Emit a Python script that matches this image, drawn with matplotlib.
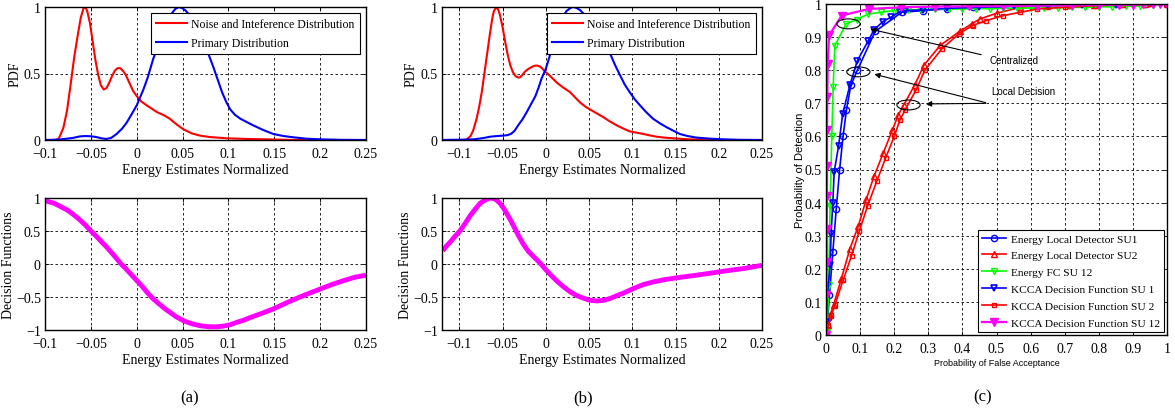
import numpy as np
import matplotlib.pyplot as plt
from matplotlib.patches import Ellipse

plt.rcParams['font.family'] = ['Liberation Serif', 'DejaVu Serif']

# ---- panel (a) data
a_noise_x = [-0.1, -0.089, -0.085, -0.08, -0.076, -0.072, -0.068, -0.064, -0.061, -0.058,
             -0.056, -0.054, -0.051, -0.048, -0.045, -0.042, -0.039, -0.036, -0.033, -0.030,
             -0.027, -0.024, -0.021, -0.018, -0.015, -0.012, -0.008, -0.004, 0.0, 0.005,
             0.011, 0.022, 0.03, 0.036, 0.043, 0.051, 0.06, 0.069, 0.08, 0.098,
             0.12, 0.142, 0.171, 0.25]
a_noise_y = [0.0, 0.0, 0.01, 0.09, 0.22, 0.42, 0.63, 0.8, 0.92, 0.99,
             1.0, 0.97, 0.88, 0.74, 0.6, 0.49, 0.41, 0.38, 0.39, 0.43,
             0.48, 0.52, 0.54, 0.54, 0.52, 0.49, 0.43, 0.37, 0.33, 0.29,
             0.26, 0.21, 0.185, 0.16, 0.12, 0.08, 0.05, 0.033, 0.022, 0.013,
             0.008, 0.005, 0.0, 0.0]
a_prim_x = [-0.1, -0.085, -0.07, -0.062, -0.056, -0.05, -0.044, -0.038, -0.033, -0.028,
            -0.022, -0.016, -0.011, -0.005, 0.0, 0.0073, 0.012, 0.018, 0.024, 0.029,
            0.034, 0.038, 0.042, 0.046, 0.05, 0.053, 0.057, 0.062, 0.067, 0.073,
            0.078, 0.084, 0.089, 0.093, 0.098, 0.102, 0.107, 0.113, 0.12, 0.127,
            0.138, 0.149, 0.16, 0.171, 0.185, 0.2, 0.225, 0.25]
a_prim_y = [0.0, 0.003, 0.015, 0.027, 0.03, 0.028, 0.022, 0.012, 0.008, 0.015,
            0.045, 0.085, 0.13, 0.2, 0.26, 0.38, 0.47, 0.61, 0.72, 0.81,
            0.89, 0.95, 0.985, 1.0, 0.99, 0.975, 0.945, 0.89, 0.82, 0.74,
            0.65, 0.54, 0.44, 0.36, 0.28, 0.23, 0.19, 0.16, 0.135, 0.11,
            0.075, 0.045, 0.03, 0.02, 0.01, 0.005, 0.001, 0.0]
a_dec_x = [-0.1, -0.09, -0.083, -0.076, -0.07, -0.063, -0.056, -0.05, -0.044, -0.038,
           -0.033, -0.028, -0.023, -0.018, -0.012, -0.006, 0.0, 0.006, 0.012, 0.018,
           0.024, 0.03, 0.036, 0.043, 0.051, 0.06, 0.069, 0.078, 0.087, 0.095,
           0.102, 0.11, 0.117, 0.124, 0.136, 0.149, 0.16, 0.171, 0.185, 0.2,
           0.213, 0.226, 0.238, 0.25]
a_dec_y = [0.96, 0.92, 0.87, 0.82, 0.76, 0.68, 0.59, 0.5, 0.42, 0.33,
           0.26, 0.18, 0.1, 0.015, -0.07, -0.16, -0.25, -0.34, -0.44, -0.53,
           -0.6, -0.67, -0.73, -0.8, -0.86, -0.905, -0.935, -0.95, -0.952, -0.94,
           -0.92, -0.88, -0.85, -0.81, -0.75, -0.68, -0.61, -0.54, -0.46, -0.38,
           -0.31, -0.25, -0.2, -0.17]

# ---- panel (b) data
b_noise_x = [-0.12, -0.093, -0.09, -0.087, -0.084, -0.08, -0.077, -0.074, -0.071, -0.068,
             -0.065, -0.062, -0.06, -0.057, -0.055, -0.053, -0.05, -0.047, -0.044, -0.041,
             -0.038, -0.035, -0.032, -0.030, -0.027, -0.024, -0.02, -0.016, -0.013, -0.010,
             -0.006, -0.003, 0.0, 0.006, 0.013, 0.02, 0.028, 0.034, 0.04, 0.046,
             0.051, 0.059, 0.067, 0.074, 0.082, 0.09, 0.097, 0.105, 0.113, 0.12,
             0.128, 0.137, 0.147, 0.157, 0.167, 0.185, 0.25]
b_noise_y = [0.0, 0.0, 0.012, 0.03, 0.07, 0.16, 0.25, 0.36, 0.5, 0.64,
             0.78, 0.91, 0.97, 1.0, 0.98, 0.94, 0.85, 0.74, 0.64, 0.56,
             0.51, 0.48, 0.47, 0.47, 0.49, 0.515, 0.535, 0.55, 0.558, 0.56,
             0.55, 0.53, 0.51, 0.475, 0.43, 0.395, 0.36, 0.32, 0.28, 0.25,
             0.23, 0.2, 0.17, 0.14, 0.11, 0.085, 0.065, 0.055, 0.045, 0.035,
             0.025, 0.018, 0.013, 0.008, 0.005, 0.001, 0.0]
b_prim_x = [-0.12, -0.1, -0.083, -0.072, -0.064, -0.056, -0.049, -0.044, -0.04, -0.036,
            -0.032, -0.027, -0.022, -0.017, -0.012, -0.008, -0.005, 0.0, 0.004, 0.009,
            0.013, 0.017, 0.021, 0.024, 0.028, 0.031, 0.035, 0.04, 0.045, 0.051,
            0.057, 0.063, 0.069, 0.075, 0.08, 0.086, 0.091, 0.097, 0.103, 0.109,
            0.116, 0.124, 0.132, 0.14, 0.148, 0.155, 0.164, 0.174, 0.19, 0.205,
            0.225, 0.25]
b_prim_y = [0.0, 0.002, 0.005, 0.015, 0.025, 0.03, 0.033, 0.037, 0.047, 0.07,
            0.11, 0.155, 0.21, 0.27, 0.33, 0.4, 0.46, 0.535, 0.62, 0.74,
            0.82, 0.89, 0.94, 0.97, 0.99, 1.0, 0.995, 0.975, 0.94, 0.89,
            0.84, 0.79, 0.72, 0.64, 0.565, 0.485, 0.42, 0.36, 0.305, 0.26,
            0.21, 0.16, 0.125, 0.095, 0.068, 0.045, 0.03, 0.018, 0.01, 0.005,
            0.001, 0.0]
b_dec_x = [-0.119, -0.115, -0.11, -0.105, -0.1, -0.094, -0.087, -0.081, -0.076, -0.07,
           -0.064, -0.06, -0.057, -0.053, -0.049, -0.045, -0.041, -0.037, -0.032, -0.026,
           -0.02, -0.014, -0.007, 0.0, 0.006, 0.013, 0.02, 0.028, 0.036, 0.044,
           0.051, 0.059, 0.067, 0.075, 0.082, 0.09, 0.1, 0.113, 0.125, 0.136,
           0.151, 0.174, 0.19, 0.205, 0.228, 0.25]
b_dec_y = [0.2, 0.27, 0.34, 0.42, 0.49, 0.6, 0.74, 0.84, 0.92, 0.97,
           1.0, 0.99, 0.97, 0.92, 0.85, 0.76, 0.67, 0.57, 0.44, 0.3,
           0.19, 0.11, 0.02, -0.086, -0.17, -0.26, -0.34, -0.42, -0.48, -0.52,
           -0.55, -0.56, -0.55, -0.52, -0.48, -0.44, -0.38, -0.31, -0.27, -0.24,
           -0.21, -0.17, -0.14, -0.11, -0.07, -0.02]

# ---- panel (c) ROC data
en1_x = [0, 0.005, 0.01, 0.02, 0.03, 0.04, 0.05, 0.06, 0.073, 0.092, 0.144, 0.222,
         0.285, 0.354, 0.43, 0.5, 0.57, 0.647, 0.715, 0.785, 0.862, 0.935, 1.0]
en1_y = [0, 0.05, 0.12, 0.25, 0.38, 0.5, 0.6, 0.68, 0.755, 0.80, 0.917, 0.975,
         0.98, 0.985, 0.99, 0.997, 0.997, 0.998, 0.998, 0.999, 0.999, 1.0, 1.0]
en2_x = [0, 0.005, 0.012, 0.022, 0.045, 0.07, 0.095, 0.118, 0.141, 0.168, 0.195, 0.212,
         0.228, 0.26, 0.287, 0.335, 0.393, 0.427, 0.452, 0.5, 0.57, 0.647, 0.715,
         0.785, 0.862, 0.935, 1.0]
en2_y = [0, 0.03, 0.06, 0.09, 0.17, 0.26, 0.33, 0.41, 0.48, 0.55, 0.62, 0.665,
         0.695, 0.755, 0.815, 0.875, 0.918, 0.94, 0.955, 0.972, 0.99, 0.995, 0.997,
         0.998, 0.999, 1.0, 1.0]
fc_x = [0, 0.003, 0.008, 0.012, 0.017, 0.021, 0.026, 0.059, 0.09, 0.124, 0.16, 0.2,
        0.24, 0.28, 0.32, 0.36, 0.4, 0.44, 0.48, 0.52, 0.56, 0.6, 0.64, 0.68, 0.72,
        0.76, 0.8, 0.84, 0.88, 0.92, 0.96, 1.0]
fc_y = [0, 0.01, 0.15, 0.39, 0.6, 0.75, 0.874, 0.94, 0.953, 0.97, 0.975, 0.98,
        0.982, 0.983, 0.984, 0.985, 0.985, 0.986, 0.986, 0.987, 0.987, 0.988, 0.988,
        0.989, 0.99, 0.99, 0.991, 0.992, 0.993, 0.994, 0.996, 1.0]
k1_x = [0, 0.0, 0.004, 0.012, 0.015, 0.02, 0.024, 0.037, 0.049, 0.07, 0.092, 0.124,
        0.141, 0.167, 0.19, 0.217, 0.232, 0.285, 0.354, 0.45, 0.55, 0.65, 0.75, 0.85,
        0.95, 1.0]
k1_y = [0, 0.04, 0.12, 0.21, 0.305, 0.40, 0.493, 0.572, 0.668, 0.755, 0.829, 0.889,
        0.922, 0.947, 0.96, 0.977, 0.98, 0.982, 0.987, 0.99, 0.993, 0.995, 0.997, 0.998,
        0.999, 1.0]
k2_x = [0, 0.002, 0.007, 0.016, 0.026, 0.05, 0.075, 0.098, 0.122, 0.149, 0.175, 0.2,
        0.217, 0.232, 0.264, 0.29, 0.34, 0.39, 0.43, 0.47, 0.52, 0.57, 0.62, 0.7,
        0.79, 0.87, 0.95, 1.0]
k2_y = [0, 0.005, 0.03, 0.06, 0.09, 0.165, 0.24, 0.315, 0.39, 0.465, 0.535, 0.6,
        0.65, 0.68, 0.74, 0.80, 0.865, 0.91, 0.935, 0.95, 0.965, 0.975, 0.985, 0.99,
        0.995, 0.997, 0.999, 1.0]
k12_x = [0, 0.001, 0.002, 0.002, 0.003, 0.003, 0.003, 0.004, 0.005, 0.009, 0.046, 0.125,
         0.22, 0.32, 0.42, 0.52, 0.62, 0.72, 0.8, 0.86, 0.9, 0.93, 0.96, 0.98, 1.0]
k12_y = [0, 0.12, 0.22, 0.32, 0.42, 0.51, 0.62, 0.72, 0.82, 0.905, 0.965, 0.985,
         0.99, 0.992, 0.993, 0.994, 0.995, 0.996, 0.997, 0.998, 0.998, 0.999, 0.999, 1.0, 1.0]

pdf_ticks = [-0.1, -0.05, 0, 0.05, 0.1, 0.15, 0.2, 0.25]
roc_ticks = [0, 0.1, 0.2, 0.3, 0.4, 0.5, 0.6, 0.7, 0.8, 0.9, 1]


def fmt(v):
    return ('%g' % v).replace('-', '\u2212')


W, H = 1175, 414
fig = plt.figure(figsize=(W / 100, H / 100), dpi=100)


def box(l, r, t, b):
    return [l / W, 1 - b / H, (r - l) / W, (b - t) / H]


def style(ax, xl, yl, xt, yt):
    ax.set_xlim(*xl)
    ax.set_ylim(*yl)
    ax.set_xticks(xt)
    ax.set_yticks(yt)
    ax.set_xticklabels([fmt(v) for v in xt], fontsize=10)
    ax.set_yticklabels([fmt(v) for v in yt], fontsize=10)
    ax.tick_params(direction='in', length=3, width=0.6, top=True, right=True)
    ax.tick_params(axis='x', pad=5)
    ax.tick_params(axis='y', pad=3)
    ax.grid(True, color='black', linestyle=(0, (3, 3)), linewidth=0.6)
    for s in ax.spines.values():
        s.set_linewidth(1.0)


def frame(leg):
    leg.get_frame().set_edgecolor('black')
    leg.get_frame().set_linewidth(0.8)
    leg.get_frame().set_alpha(1)


def pdf_panel(rect, xl, nx, ny, px, py, ylx):
    ax = fig.add_axes(rect)
    ax.plot(nx, ny, color='red', lw=1.5, label='Noise and Inteference Distribution')
    ax.plot(px, py, color='blue', lw=1.5, label='Primary Distribution')
    style(ax, xl, (0, 1), pdf_ticks, [0, 0.5, 1])
    ax.set_xlabel('Energy Estimates Normalized', fontsize=10, labelpad=2)
    ax.set_ylabel('PDF', fontsize=10)
    ax.yaxis.set_label_coords(ylx, 0.5)
    leg = ax.legend(loc='upper right', fontsize=8.5, frameon=True, fancybox=False,
                    borderpad=0.4, handlelength=2.6, labelspacing=0.6,
                    borderaxespad=0.55, handletextpad=0.4)
    frame(leg)
    return ax


def dec_panel(rect, xl, dx, dy, ylx):
    ax = fig.add_axes(rect)
    ax.plot(dx, dy, color='magenta', lw=3.5, solid_capstyle='butt')
    style(ax, xl, (-1, 1), pdf_ticks, [-1, -0.5, 0, 0.5, 1])
    ax.set_xlabel('Energy Estimates Normalized', fontsize=10, labelpad=2)
    ax.set_ylabel('Decision Functions', fontsize=10)
    ax.yaxis.set_label_coords(ylx, 0.5)
    return ax


pdf_panel(box(45, 366, 8, 141), (-0.1, 0.25), a_noise_x, a_noise_y, a_prim_x, a_prim_y, -0.072)
dec_panel(box(45, 366, 199, 331), (-0.1, 0.25), a_dec_x, a_dec_y, -0.093)
pdf_panel(box(442, 762, 8, 141), (-0.12, 0.25), b_noise_x, b_noise_y, b_prim_x, b_prim_y, -0.075)
dec_panel(box(442, 762, 199, 331), (-0.12, 0.25), b_dec_x, b_dec_y, -0.094)

# ---- panel (c)
axc = fig.add_axes(box(826, 1167, 5, 336))
green = '#00ff00'
axc.plot(en1_x, en1_y, color='blue', lw=1.2, marker='o', ms=4.5, mfc='none', mew=1,
         label='Energy Local Detector SU1')
axc.plot(en2_x, en2_y, color='red', lw=1.2, marker='^', ms=5, mfc='none', mew=1,
         label='Energy Local Detector SU2')
axc.plot(fc_x, fc_y, color=green, lw=1.2, marker='v', ms=5, mfc='none', mew=1,
         label='Energy FC SU 12')
axc.plot(k1_x, k1_y, color='blue', lw=1.2, marker='v', ms=5, mfc='none', mew=1.2,
         label='KCCA Decision Function SU 1')
axc.plot(k2_x, k2_y, color='red', lw=1.2, marker='s', ms=3.5, mfc='none', mew=1,
         label='KCCA Decision Function SU 2')
axc.plot(k12_x, k12_y, color='magenta', lw=1.6, marker='v', ms=6,
         label='KCCA Decision Function SU 12')
style(axc, (0, 1), (0, 1), roc_ticks, roc_ticks)
axc.set_xlabel('Probability of False Acceptance', fontsize=6.5, family='Liberation Sans',
               labelpad=2)
axc.set_ylabel('Probability of Detection', fontsize=8, family='Liberation Sans')
axc.yaxis.set_label_coords(-0.062, 0.5)
leg = axc.legend(loc='lower right', fontsize=8.2, frameon=True, fancybox=False,
                 borderpad=0.35, handlelength=2.1, labelspacing=0.6,
                 borderaxespad=0.3, handletextpad=0.4)
frame(leg)

for cx, cy in [(0.066, 0.94), (0.095, 0.795), (0.242, 0.695)]:
    axc.add_patch(Ellipse((cx, cy), 0.068, 0.03, fill=False, ec='black', lw=0.8, zorder=5))
ann = dict(arrowstyle='-|>', color='black', lw=0.8, mutation_scale=8)
axc.annotate('', xy=(0.122, 0.926), xytext=(0.463, 0.845), arrowprops=ann)
axc.annotate('', xy=(0.134, 0.79), xytext=(0.476, 0.70), arrowprops=ann)
axc.annotate('', xy=(0.285, 0.698), xytext=(0.476, 0.70), arrowprops=ann)
axc.text(0.55, 0.83, 'Centralized', fontsize=7, family='Liberation Sans',
         ha='center', va='center')
axc.text(0.578, 0.738, 'Local Decision', fontsize=7, family='Liberation Sans',
         ha='center', va='center')

fig.text(190 / W, 1 - 398 / H, '(a)', fontsize=12, ha='center', va='center')
fig.text(583 / W, 1 - 398 / H, '(b)', fontsize=12, ha='center', va='center')
fig.text(983 / W, 1 - 397 / H, '(c)', fontsize=12, ha='center', va='center')

fig.savefig('out.png', dpi=100)
